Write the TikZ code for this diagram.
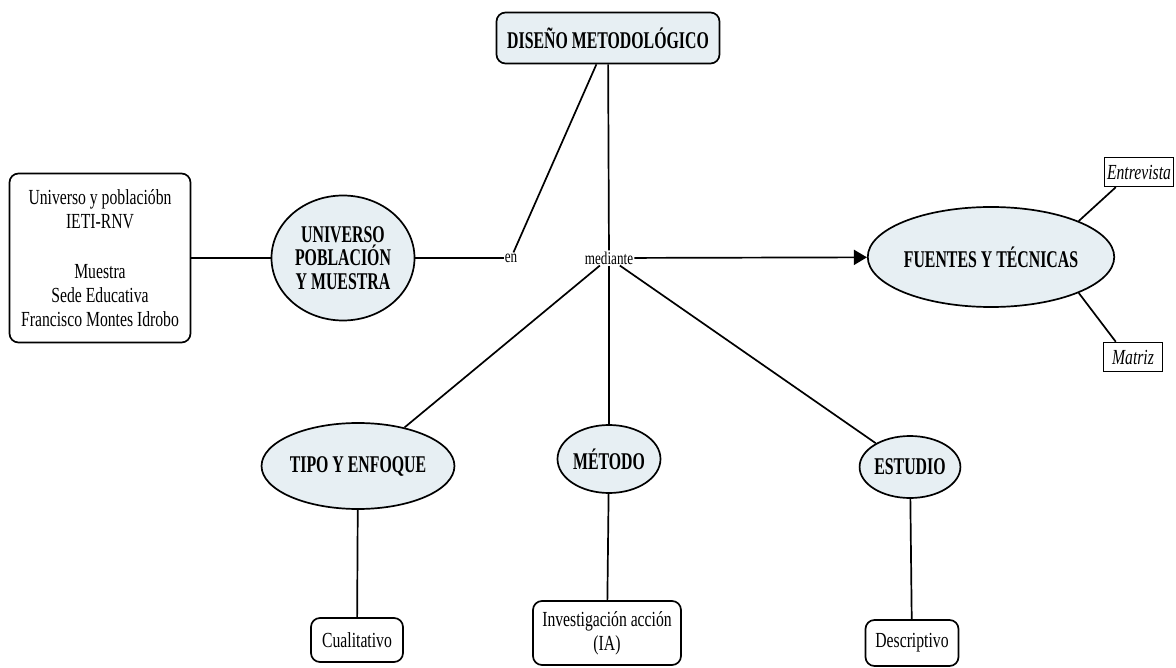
\documentclass[tikz,border=0pt]{standalone}
\usepackage{fontspec}
\setmainfont{Liberation Serif}[FakeStretch=0.73]
\newfontfamily\conceptfont{Liberation Serif}[FakeStretch=0.66]
\usepackage{tikz}
\usetikzlibrary{shapes.geometric,arrows.meta,positioning}
\definecolor{conceptfill}{RGB}{231,239,243}

\begin{document}
\begin{tikzpicture}[
  x=1pt, y=-1pt,
  concept/.style={draw, ellipse, line width=1.7pt, fill=conceptfill, inner sep=0pt, align=center, font=\conceptfont\fontsize{24}{23.5}\selectfont\bfseries},
  title/.style={draw, rounded corners=9pt, line width=1.7pt, fill=conceptfill, inner sep=0pt, align=center, font=\conceptfont\fontsize{24}{23.5}\selectfont\bfseries},
  leaf/.style={draw, rounded corners=9pt, line width=1.7pt, fill=white, inner sep=0pt, align=center, font=\fontsize{21.5}{24}\selectfont},
  tech/.style={draw, line width=1.4pt, fill=white, inner sep=0pt, align=center, font=\fontsize{21.5}{24}\selectfont\itshape},
  link/.style={inner sep=1pt, font=\fontsize{18}{20}\selectfont},
  line/.style={line width=1.7pt},
  arrow/.style={-{Triangle[length=13pt,width=15pt]}, line width=1.7pt}
]
\useasboundingbox (0,0) rectangle (1176,668);

% Concepto central
\node[title, minimum width=223, minimum height=51] (diseno) at (608,38) {DISEÑO METODOLÓGICO};

% Palabras de enlace
\node[link] (en) at (511,258) {en};
\node[link] (mediante) at (609,258) {mediante};

% Conceptos
\node[concept, minimum width=143, minimum height=125] (universo) at (343,258) {UNIVERSO\\POBLACIÓN\\Y MUESTRA};
\node[concept, minimum width=199, minimum height=100] (fuentes) at (991,257) {FUENTES Y TÉCNICAS};
\node[concept, minimum width=164, minimum height=86] (tipo) at (358,466) {TIPO Y ENFOQUE};
\node[concept, minimum width=103, minimum height=68] (metodo) at (609,459) {MÉTODO};
\node[concept, minimum width=95, minimum height=62] (estudio) at (910,467) {ESTUDIO};

% Hojas
\node[leaf, minimum width=181, minimum height=169] (poblacion) at (100,258) {Universo y poblacióbn\\IETI-RNV\\[26pt]Muestra\\Sede Educativa\\Francisco Montes Idrobo};
\node[leaf, minimum width=92, minimum height=44] (cualitativo) at (357,640) {Cualitativo};
\node[leaf, minimum width=148, minimum height=64] (ia) at (607,633) {Investigación acción\\(IA)};
\node[leaf, minimum width=93, minimum height=46] (descriptivo) at (912,643) {Descriptivo};
\node[tech, minimum width=69, minimum height=29] (entrevista) at (1139,172) {Entrevista};
\node[tech, minimum width=59, minimum height=29] (matriz) at (1133,357) {Matriz};

% Conectores
\draw[line] (diseno) -- (en);
\draw[line] (diseno) -- (mediante);
\draw[line] (en) -- (universo);
\draw[line] (universo) -- (poblacion);
\draw[arrow] (mediante) -- (fuentes);
\draw[line] (mediante) -- (tipo);
\draw[line] (mediante) -- (metodo);
\draw[line] (mediante) -- (estudio);
\draw[line] (tipo) -- (cualitativo);
\draw[line] (metodo) -- (ia);
\draw[line] (estudio) -- (descriptivo);
\draw[line] (fuentes.north east) -- ([xshift=12pt]entrevista.south west);
\draw[line] (fuentes.south east) -- ([xshift=13pt]matriz.north west);
\end{tikzpicture}
\end{document}
